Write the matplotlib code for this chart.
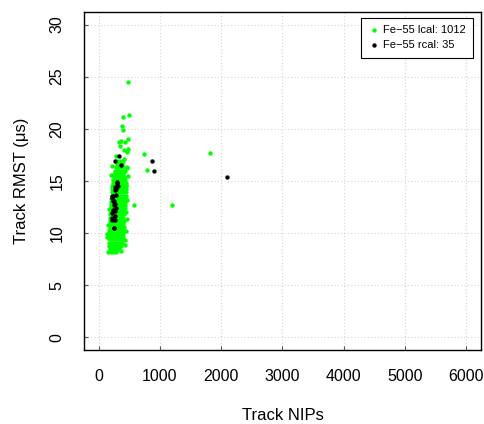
import numpy as np
import matplotlib.pyplot as plt

plt.rcParams['font.family'] = ['Liberation Sans', 'DejaVu Sans']

# lcal cluster, typed row by row (RMST level, NIPs values on that level)
lcal_rows = [
    (8.2, [153, 198, 236, 281]),
    (8.5, [186, 224, 265, 298, 332]),
    (8.8, [171, 212, 248, 291, 327, 366]),
    (9.1, [168, 206, 243, 287, 318, 357, 386]),
    (9.4, [176, 214, 257, 290, 331, 367, 394]),
    (9.7, [169, 209, 246, 289, 324, 361, 399]),
    (10.0, [173, 211, 252, 288, 332, 369, 404]),
    (10.3, [167, 204, 247, 283, 321, 362, 396]),
    (10.6, [177, 219, 256, 297, 334, 371, 409]),
    (10.9, [181, 214, 253, 292, 327, 366, 401]),
    (11.2, [184, 223, 261, 296, 337, 374, 414]),
    (11.5, [182, 221, 257, 294, 333, 371, 404]),
    (11.8, [191, 227, 266, 303, 339, 377, 417]),
    (12.1, [193, 231, 267, 306, 343, 381, 421]),
    (12.4, [197, 235, 274, 309, 347, 386, 424]),
    (12.7, [201, 237, 276, 313, 351, 387, 427]),
    (13.0, [204, 241, 277, 316, 353, 391, 431]),
    (13.3, [207, 243, 283, 319, 357, 397, 434]),
    (13.6, [211, 249, 285, 323, 363, 399, 439]),
    (13.9, [213, 253, 291, 327, 367, 403, 441]),
    (14.2, [221, 257, 297, 333, 371, 411, 446]),
    (14.5, [225, 265, 301, 341, 377, 415, 451]),
    (14.8, [233, 269, 309, 345, 385, 419, 452]),
    (15.1, [239, 275, 315, 351, 389, 427]),
    (15.4, [246, 281, 321, 357, 397, 431]),
    (15.7, [256, 291, 331, 367, 404]),
    (16.0, [264, 301, 339, 381, 424]),
    (16.3, [279, 317, 357, 397]),
    (16.6, [291, 329, 373]),
    (16.9, [301, 344, 389]),
]

# lcal points away from the main cluster
lcal_out_x = [486, 502, 404, 387, 404, 486, 360, 338, 437, 349, 486, 420, 463,
              736, 1815, 790, 1194, 572, 469, 452, 463, 289, 409, 463, 398,
              141, 152, 438, 428, 161, 468, 482, 205, 218, 362, 133, 447, 423]
lcal_out_y = [24.5, 21.3, 21.1, 20.3, 19.9, 19.0, 18.8, 18.7, 18.7, 18.35, 18.1,
              17.95, 17.8, 17.6, 17.7, 16.1, 12.7, 12.7, 11.4, 14.6, 16.25, 17.4,
              17.1, 16.3, 15.8,
              9.6, 10.8, 10.2, 9.3, 12.3, 13.2, 15.5, 15.6, 16.4, 8.3, 9.9, 12.0, 8.9]

rcal_x = [262, 327, 371, 305, 273, 262, 289, 234, 218, 251, 273, 234, 273, 218,
          251, 300, 316, 224, 245, 278, 262, 224, 262, 224, 245, 289, 234,
          872, 905, 2093]
rcal_y = [16.95, 17.4, 16.5, 14.9, 14.45, 14.1, 13.65, 13.55, 13.4, 13.1, 12.76,
          12.2, 11.65, 11.5, 10.5, 14.8, 14.5, 13.55, 12.7, 12.45, 12.1, 11.97,
          11.3, 11.3, 10.5, 14.2, 13.1, 16.95, 16.0, 15.4]

lcal_x = [x for y, xs in lcal_rows for x in xs] + lcal_out_x
lcal_y = [y for y, xs in lcal_rows for x in xs] + lcal_out_y

fig = plt.figure(figsize=(4.85, 4.24), dpi=100)
ax = fig.add_axes([84 / 485, 1 - 350 / 424, (481 - 84) / 485, (350 - 12) / 424])

ax.scatter(lcal_x, lcal_y, s=10, color='#00ff00', linewidths=0,
           label='Fe\u221255 lcal: 1012', zorder=3)
ax.scatter(rcal_x, rcal_y, s=10, color='black', linewidths=0,
           label='Fe\u221255 rcal: 35', zorder=4)

ax.set_xlim(-240, 6240)
ax.set_ylim(-1.2, 31.2)
ax.set_xticks(np.arange(0, 6001, 1000))
ax.set_yticks(np.arange(0, 31, 5))
ax.grid(True, color='#d3d3d3', linestyle=(0, (1, 2)), linewidth=0.8, zorder=0)
ax.tick_params(direction='in', length=3, color='#555555', labelsize=11.5, pad=14)
plt.setp(ax.get_yticklabels(), rotation=90, va='center')
for sp in ax.spines.values():
    sp.set_linewidth(1.0)

ax.set_xlabel('Track NIPs', fontsize=12, labelpad=17)
ax.set_ylabel('Track RMST (\u03bcs)', fontsize=12, labelpad=15)

leg = ax.legend(loc='upper right', fontsize=8, markerscale=1.0, handletextpad=0.3,
                handlelength=1.0, borderpad=0.65, fancybox=False, framealpha=1,
                edgecolor='black', bbox_to_anchor=(0.98, 0.982), borderaxespad=0,
                labelspacing=0.45)
leg.get_frame().set_linewidth(0.8)

fig.savefig('out.png', dpi=100)
